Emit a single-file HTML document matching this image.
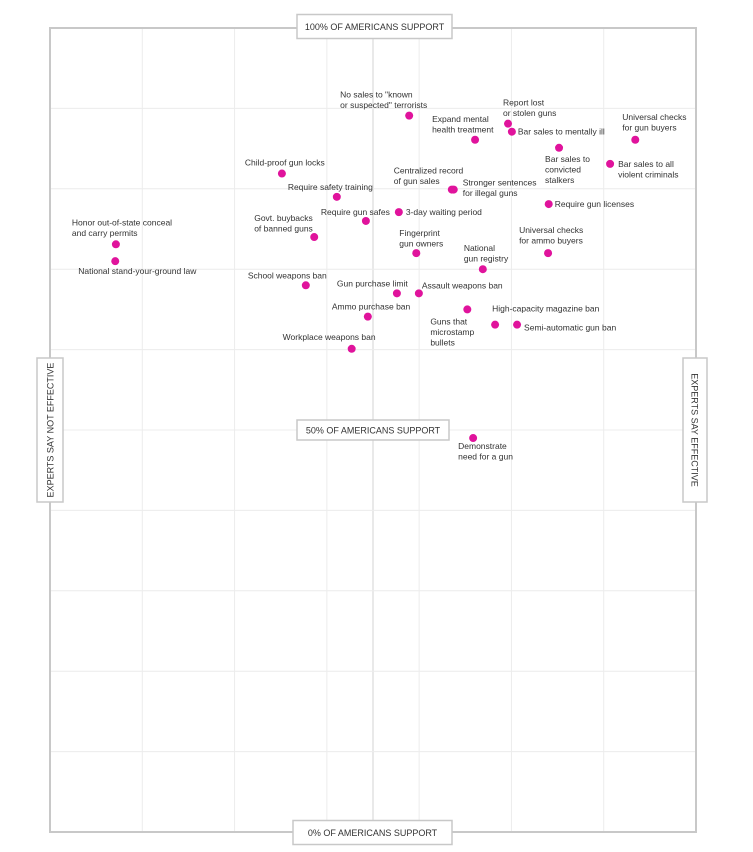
<!DOCTYPE html>
<html><head><meta charset="utf-8"><style>
body{margin:0;background:#fff;}
svg{display:block;font-family:"Liberation Sans",sans-serif;}
.lbl{font-size:8.5px;fill:#333;}
.box{fill:#fff;stroke:#c8c8c8;stroke-width:1.5;}
.boxt{font-size:9px;fill:#333;}
</style></head><body>
<svg id="chart" width="753" height="852"></svg>
<script>
const policies=["No sales to \"known|or suspected\" terrorists","Expand mental|health treatment","Report lost|or stolen guns","Bar sales to mentally ill","Universal checks|for gun buyers","Bar sales to|convicted|stalkers","Bar sales to all|violent criminals","Child-proof gun locks","Centralized record|of gun sales","Stronger sentences|for illegal guns","Require safety training","Require gun licenses","3-day waiting period","Require gun safes","Govt. buybacks|of banned guns","Universal checks|for ammo buyers","Fingerprint|gun owners","National|gun registry","School weapons ban","Gun purchase limit","Assault weapons ban","Guns that|microstamp|bullets","Ammo purchase ban","High-capacity magazine ban","Semi-automatic gun ban","Workplace weapons ban","Honor out-of-state conceal|and carry permits","National stand-your-ground law","Demonstrate|need for a gun"];
const effectiveness=[55.6,65.8,70.9,71.5,90.6,78.8,86.7,35.9,62.2,62.5,44.4,77.2,54.0,48.9,40.9,77.1,56.7,67.0,39.6,53.7,57.1,64.6,49.2,68.9,72.3,46.7,10.2,10.1,65.5];
const support=[89.1,86.1,88.1,87.1,86.1,85.1,83.1,81.9,79.9,79.9,79.0,78.1,77.1,76.0,74.0,72.0,72.0,70.0,68.0,67.0,67.0,65.0,64.1,63.1,63.1,60.1,73.1,71.0,49.0];
const labelDx=[-69,-43,-5,6,-13,-14,8,-37,-58,9,-49,6,7,-45,-60,-29,-17,-19,-58,-60,3,-37,-36,-3,7,-69,-44,-37,-15];
const labelDy=[-18,-18,-18,3,-20,14,3,-8,-16,-4,-7,3,3,-6,-16,-20,-17,-18,-7,-7,-5,15,-7,-13,6,-9,-19,13,11];
const X0=50,X1=696,Y0=832,Y1=28;
const xs=v=>X0+(X1-X0)*v/100;
const ys=v=>Y0-(Y0-Y1)*v/100;
const svg=document.getElementById('chart');
const NS="http://www.w3.org/2000/svg";
function mk(t,a,p){const e=document.createElementNS(NS,t);for(const k in a)e.setAttribute(k,a[k]);(p||svg).appendChild(e);return e;}
const gx=[0,100/7,200/7,300/7,50,400/7,500/7,600/7];
gx.forEach((v,i)=>{const l=mk('line',{x1:xs(v),x2:xs(v),y1:Y1,y2:Y0,stroke:v===50?'#e2e2e2':'#ececec','stroke-width':v===50?1.5:1});

});
for(let p=10;p<100;p+=10){const l=mk('line',{x1:X0,x2:X1,y1:ys(p),y2:ys(p),stroke:'#ececec','stroke-width':1});

}
const fr=mk('rect',{x:X0,y:Y1,width:X1-X0,height:Y0-Y1,fill:'none',stroke:'#c8c8c8','stroke-width':2});


function hbox(cx,cy,w,h,txt,name){const g=mk('g',{});


mk('rect',{x:cx-w/2,y:cy-h/2,width:w,height:h,class:'box'},g);
const t=mk('text',{x:cx,y:cy+3.5,'text-anchor':'middle',class:'boxt'},g);t.textContent=txt;}
hbox(374.5,26.5,155,24,'100% OF AMERICANS SUPPORT','top-axis-label');
hbox(373,430,152,20,'50% OF AMERICANS SUPPORT','middle-axis-label');
hbox(372.5,832.5,159,24,'0% OF AMERICANS SUPPORT','bottom-axis-label');
function vbox(cx,cy,w,h,txt,rot,name){const g=mk('g',{});


mk('rect',{x:cx-w/2,y:cy-h/2,width:w,height:h,class:'box'},g);
const t=mk('text',{x:cx,y:cy,'text-anchor':'middle',class:'boxt',transform:`rotate(${rot} ${cx} ${cy}) translate(0 3.5)`},g);t.textContent=txt;}
vbox(50,430,26,144,'EXPERTS SAY NOT EFFECTIVE',-90,'left-axis-label');
vbox(695,430,24,144,'EXPERTS SAY EFFECTIVE',90,'right-axis-label');
policies.forEach((p,i)=>{const cx=xs(effectiveness[i]),cy=ys(support[i]);
const g=mk('g',{});


const c=mk('circle',{cx:cx,cy:cy,r:4,fill:'#e0139c'},g);


const t=mk('text',{x:cx+labelDx[i],y:cy+labelDy[i],class:'lbl'},g);


p.split('|').forEach((ln,j)=>{const s=mk('tspan',{x:cx+labelDx[i],dy:j?10.5:0},t);s.textContent=ln;});
});
</script>
</body></html>
